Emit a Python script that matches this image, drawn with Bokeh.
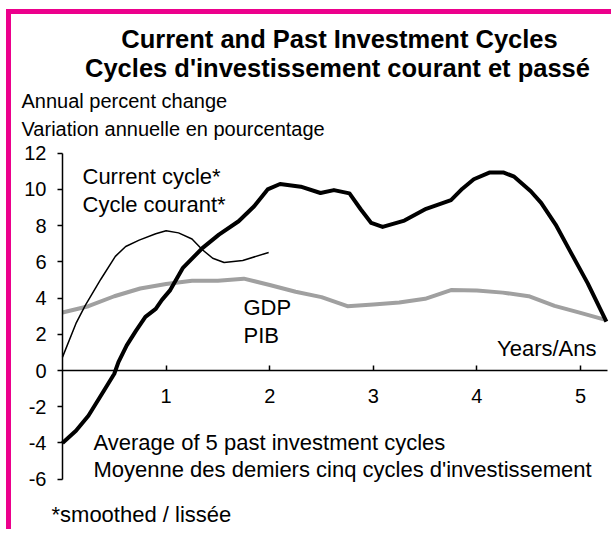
from bokeh.plotting import figure
from bokeh.models import Range1d, FixedTicker, Label
from bokeh.embed import file_html
from bokeh.resources import INLINE

FONT = "Liberation Sans"

# ---- data ----
year_ticks = [1, 2, 3, 4, 5]
pct_ticks = [-6, -4, -2, 0, 2, 4, 6, 8, 10, 12]

# Average of 5 past investment cycles (thick black)
avg_x = [0, 0.13, 0.25, 0.38, 0.5, 0.54, 0.62, 0.71, 0.8, 0.9, 0.96, 1.04, 1.16, 1.35, 1.51,
         1.70, 1.85, 1.98, 2.1, 2.3, 2.49, 2.62, 2.77, 2.88, 2.98, 3.09, 3.30, 3.51, 3.75,
         3.86, 3.97, 4.12, 4.26, 4.36, 4.52, 4.62, 4.76, 4.91, 5.07, 5.25]
avg_y = [-4.0, -3.33, -2.5, -1.3, -0.18, 0.46, 1.39, 2.2, 2.96, 3.4, 3.9, 4.44, 5.65, 6.76, 7.5,
         8.24, 9.07, 10.0, 10.3, 10.15, 9.8, 9.96, 9.78, 8.89, 8.15, 7.93, 8.28, 8.93, 9.41,
         10.04, 10.56, 10.93, 10.93, 10.7, 9.9, 9.26, 8.06, 6.48, 4.81, 2.7]

# Current cycle (thin black, smoothed)
cur_x = [0, 0.13, 0.22, 0.37, 0.51, 0.61, 0.74, 0.90, 1.0, 1.12, 1.25, 1.35, 1.45, 1.56, 1.74, 1.99]
cur_y = [0.74, 2.6, 3.6, 5.04, 6.3, 6.85, 7.2, 7.55, 7.72, 7.6, 7.26, 6.67, 6.2, 5.96, 6.07, 6.52]

# GDP (grey)
gdp_x = [0, 0.25, 0.5, 0.75, 1.0, 1.25, 1.5, 1.75, 2.0, 2.25, 2.5, 2.75, 3.0, 3.25, 3.5,
         3.75, 4.0, 4.25, 4.5, 4.75, 5.0, 5.25]
gdp_y = [3.2, 3.55, 4.1, 4.53, 4.78, 4.96, 4.95, 5.07, 4.72, 4.35, 4.05, 3.55, 3.65, 3.75, 3.96,
         4.44, 4.42, 4.3, 4.1, 3.57, 3.18, 2.78]

title_lines = ["Current and Past Investment Cycles", "Cycles d'investissement courant et passé"]
unit_lines = ["Annual percent change", "Variation annuelle en pourcentage"]
current_lines = ["Current cycle*", "Cycle courant*"]
gdp_lines = ["GDP", "PIB"]
avg_lines = ["Average of 5 past investment cycles", "Moyenne des demiers cinq cycles d'investissement"]
x_title = "Years/Ans"
footnote = "*smoothed / lissée"

MAGENTA = "#EC008C"
GREY = "#a0a0a0"

# page-pixel -> data helpers (x=0 at px 62, 103.6 px per year; y=0 at px 370, 18.11 px per point)
def dx(px):
    return (px - 62) / 103.6


def dy(py):
    return (370 - py) / 18.11


CANVAS_L, CANVAS_T = 11, 14
W, H = 605, 520

p = figure(width=W, height=H,
           x_range=Range1d(dx(CANVAS_L), dx(CANVAS_L + W)),
           y_range=Range1d(dy(CANVAS_T + H), dy(CANVAS_T)),
           output_backend="svg", toolbar_location=None,
           min_border_left=0, min_border_right=0, min_border_top=0, min_border_bottom=0)
p.styles = {"border-top": "5px solid " + MAGENTA, "border-left": "5px solid " + MAGENTA,
            "margin-left": "6px", "margin-top": "9px"}
p.outline_line_color = None
p.xgrid.visible = False
p.ygrid.visible = False
p.background_fill_color = "white"
p.border_fill_color = "white"

# axes
xa = p.xaxis[0]
xa.fixed_location = 0
xa.bounds = (0, 5.26)
xa.ticker = FixedTicker(ticks=year_ticks)
xa.major_tick_in = 5
xa.major_tick_out = 0
xa.major_label_standoff = 18
ya = p.yaxis[0]
ya.fixed_location = 0
ya.bounds = (-6, 12)
ya.ticker = FixedTicker(ticks=pct_ticks)
ya.major_tick_in = 0
ya.major_tick_out = 5
ya.major_label_standoff = 11
ya.major_label_overrides = {t: str(t) for t in pct_ticks}
for ax in (xa, ya):
    ax.minor_tick_in = 0
    ax.minor_tick_out = 0
    ax.axis_line_color = "black"
    ax.axis_line_width = 1.5
    ax.major_tick_line_color = "black"
    ax.major_tick_line_width = 1.5
    ax.major_label_text_font = FONT
    ax.major_label_text_font_size = "20px"
    ax.major_label_text_color = "black"

# series
p.line(gdp_x, gdp_y, line_color=GREY, line_width=4, line_join="round")
p.line(cur_x, cur_y, line_color="black", line_width=1.5, line_join="round")
p.line(avg_x, avg_y, line_color="black", line_width=4, line_join="round")


def lab(px, py, text, align="left", size="22px", bold=False):
    p.add_layout(Label(x=dx(px), y=dy(py), text=text, text_align=align, text_baseline="middle",
                       text_font=FONT, text_font_size=size,
                       text_font_style="bold" if bold else "normal", text_color="black"))


lab(339, 38, title_lines[0], align="center", size="25.5px", bold=True)
lab(337, 67, title_lines[1], align="center", size="25.5px", bold=True)
lab(21, 100, unit_lines[0], size="20px")
lab(21, 128, unit_lines[1], size="20px")
lab(82, 176, current_lines[0])
lab(82, 204, current_lines[1])
lab(243, 307, gdp_lines[0])
lab(243, 335, gdp_lines[1])
lab(596, 348, x_title, align="right")
lab(93, 442, avg_lines[0])
lab(93, 469, avg_lines[1])
lab(51, 514, footnote)

open("out.html", "w").write(file_html(p, INLINE))
